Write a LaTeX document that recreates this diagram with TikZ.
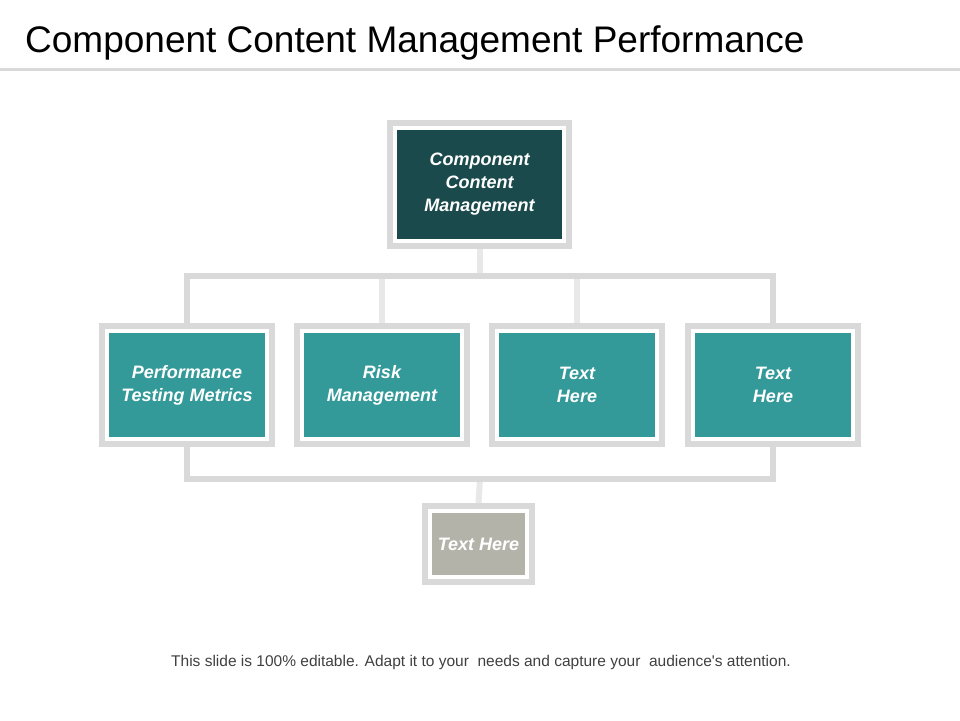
\documentclass[tikz,border=0pt]{standalone}
\usepackage{fontspec}
\setmainfont{Liberation Sans}
\newfontfamily\footfont{Liberation Sans}
\definecolor{framegray}{HTML}{D9D9D9}
\definecolor{linkgray}{HTML}{E8E8E8}
\definecolor{topteal}{HTML}{1A4A4B}
\definecolor{boxteal}{HTML}{339999}
\definecolor{notegray}{HTML}{B4B3A9}
\definecolor{footgray}{HTML}{404040}

\begin{document}
\begin{tikzpicture}[x=1pt,y=-1pt,
  frame/.style={draw=framegray, line width=6pt, fill=white, inner sep=0pt},
  card/.style={text=white, align=center, inner sep=0pt,
    font=\fontsize{18}{23}\selectfont\bfseries\itshape},
  link/.style={draw=framegray, line width=6pt},
  faint/.style={draw=linkgray, line width=6pt}]
\useasboundingbox (0,0) rectangle (960,720);

% title
\node[anchor=base west, inner sep=0pt, font=\fontsize{37}{40}\selectfont] (title) at (25,52) {Component Content Management Performance};
\draw[framegray, line width=3pt] (0,69.5) -- (960,69.5);

% top box
\node[frame, minimum width=179pt, minimum height=123pt] (top) at (479.5,184.5) {};
\node[card, fill=topteal, minimum width=165pt, minimum height=109pt] (toptxt) at (top) {Component\\Content\\Management};

% middle row
\foreach \i/\x/\txt in {1/187/{Performance\\Testing Metrics}, 2/382/{Risk\\Management}, 3/577/{Text\\Here}, 4/773/{Text\\Here}} {
\node[frame, minimum width=170pt, minimum height=118pt] (mid\i) at (\x,385) {};
\node[card, fill=boxteal, minimum width=156pt, minimum height=104pt] (midtxt\i) at (mid\i) {\txt};
}

% bottom box
\node[frame, minimum width=107pt, minimum height=76pt] (note) at (478.5,544) {};
\node[card, fill=notegray, minimum width=93pt, minimum height=62pt] (notetxt) at (note) {Text Here};

% connectors
\coordinate (upbar) at (480,276);
\coordinate (lowbar) at (480,479);
\draw[faint] (top.south) -- (top.south |- upbar);
\draw[faint] (mid2.north) -- (mid2.north |- upbar);
\draw[faint] (mid3.north) -- (mid3.north |- upbar);
\draw[faint] (lowbar) -- (note.north);
\draw[link] (mid1.north) -- (mid1.north |- upbar) -- (mid4.north |- upbar) -- (mid4.north);
\draw[link] (mid1.south) -- (mid1.south |- lowbar) -- (mid4.south |- lowbar) -- (mid4.south);

% footer
\node[font=\footfont\fontsize{15.5}{18}\selectfont, text=footgray] (foot) at (481,662) {This slide is 100\% editable. Adapt it to your\ \ needs and capture your\ \ audience's attention.};
\end{tikzpicture}
\end{document}
